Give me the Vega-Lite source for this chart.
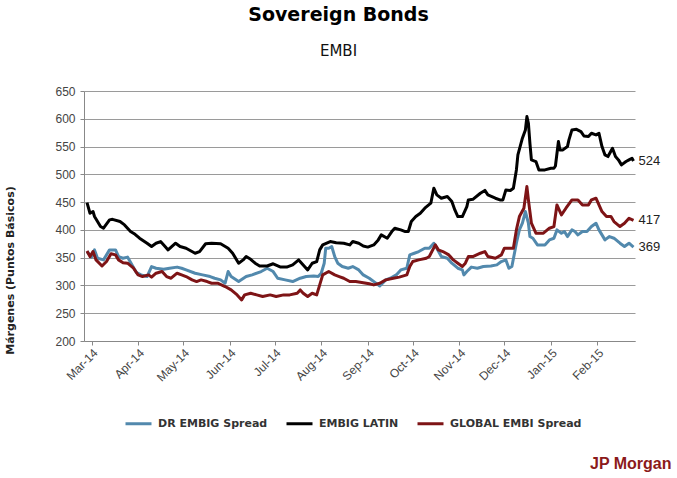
{
  "$schema": "https://vega.github.io/schema/vega-lite/v6.json",
  "width": 551,
  "height": 250,
  "autosize": {"type": "none"},
  "padding": {"left": 84, "top": 91, "right": 42, "bottom": 137},
  "background": "white",
  "title": {
    "text": "Sovereign Bonds",
    "subtitle": "EMBI",
    "anchor": "middle",
    "dx": -21,
    "font": "DejaVu Sans",
    "fontSize": 19,
    "fontWeight": "bold",
    "color": "#000000",
    "subtitleFont": "DejaVu Sans",
    "subtitleFontSize": 15,
    "subtitleColor": "#111111",
    "subtitlePadding": 19,
    "offset": 26
  },
  "config": {
    "view": {"stroke": null},
    "axis": {
      "labelFont": "Liberation Sans",
      "labelFontSize": 12,
      "labelColor": "#444444",
      "domainColor": "#888888",
      "tickColor": "#888888",
      "gridColor": "#9a9a9a",
      "tickSize": 4
    },
    "axisX": {
      "grid": false,
      "labelAngle": -45,
      "labelPadding": 2,
      "titleX": 587,
      "titleY": 122,
      "titleAlign": "right",
      "titleBaseline": "middle",
      "titleFont": "Liberation Sans",
      "titleFontSize": 16,
      "titleFontWeight": "bold",
      "titleColor": "#8b1a1a"
    },
    "axisY": {
      "grid": true,
      "labelPadding": 5,
      "titleX": -74,
      "titleY": 179,
      "titleAngle": -90,
      "titleAlign": "center",
      "titleBaseline": "middle",
      "titleFont": "DejaVu Sans",
      "titleFontSize": 11,
      "titleFontWeight": "bold",
      "titleColor": "#222222"
    }
  },
  "data": {
    "values": [
      {"date": "2014-02-26", "series": "DR EMBIG Spread", "value": 361},
      {"date": "2014-03-01", "series": "DR EMBIG Spread", "value": 351},
      {"date": "2014-03-03", "series": "DR EMBIG Spread", "value": 364},
      {"date": "2014-03-05", "series": "DR EMBIG Spread", "value": 349},
      {"date": "2014-03-09", "series": "DR EMBIG Spread", "value": 346},
      {"date": "2014-03-13", "series": "DR EMBIG Spread", "value": 364},
      {"date": "2014-03-17", "series": "DR EMBIG Spread", "value": 364},
      {"date": "2014-03-19", "series": "DR EMBIG Spread", "value": 352},
      {"date": "2014-03-22", "series": "DR EMBIG Spread", "value": 349},
      {"date": "2014-03-25", "series": "DR EMBIG Spread", "value": 351},
      {"date": "2014-03-28", "series": "DR EMBIG Spread", "value": 337},
      {"date": "2014-03-31", "series": "DR EMBIG Spread", "value": 323},
      {"date": "2014-04-03", "series": "DR EMBIG Spread", "value": 319},
      {"date": "2014-04-07", "series": "DR EMBIG Spread", "value": 316},
      {"date": "2014-04-10", "series": "DR EMBIG Spread", "value": 334},
      {"date": "2014-04-13", "series": "DR EMBIG Spread", "value": 331},
      {"date": "2014-04-18", "series": "DR EMBIG Spread", "value": 329},
      {"date": "2014-04-22", "series": "DR EMBIG Spread", "value": 331},
      {"date": "2014-04-27", "series": "DR EMBIG Spread", "value": 333},
      {"date": "2014-04-30", "series": "DR EMBIG Spread", "value": 331},
      {"date": "2014-05-03", "series": "DR EMBIG Spread", "value": 328},
      {"date": "2014-05-09", "series": "DR EMBIG Spread", "value": 322},
      {"date": "2014-05-14", "series": "DR EMBIG Spread", "value": 319},
      {"date": "2014-05-19", "series": "DR EMBIG Spread", "value": 316},
      {"date": "2014-05-22", "series": "DR EMBIG Spread", "value": 313},
      {"date": "2014-05-26", "series": "DR EMBIG Spread", "value": 310},
      {"date": "2014-05-29", "series": "DR EMBIG Spread", "value": 304},
      {"date": "2014-05-31", "series": "DR EMBIG Spread", "value": 325},
      {"date": "2014-06-02", "series": "DR EMBIG Spread", "value": 316},
      {"date": "2014-06-07", "series": "DR EMBIG Spread", "value": 307},
      {"date": "2014-06-12", "series": "DR EMBIG Spread", "value": 316},
      {"date": "2014-06-16", "series": "DR EMBIG Spread", "value": 319},
      {"date": "2014-06-22", "series": "DR EMBIG Spread", "value": 325},
      {"date": "2014-06-26", "series": "DR EMBIG Spread", "value": 331},
      {"date": "2014-06-30", "series": "DR EMBIG Spread", "value": 325},
      {"date": "2014-07-03", "series": "DR EMBIG Spread", "value": 313},
      {"date": "2014-07-08", "series": "DR EMBIG Spread", "value": 310},
      {"date": "2014-07-13", "series": "DR EMBIG Spread", "value": 307},
      {"date": "2014-07-18", "series": "DR EMBIG Spread", "value": 313},
      {"date": "2014-07-22", "series": "DR EMBIG Spread", "value": 316},
      {"date": "2014-07-27", "series": "DR EMBIG Spread", "value": 317},
      {"date": "2014-07-30", "series": "DR EMBIG Spread", "value": 316},
      {"date": "2014-08-01", "series": "DR EMBIG Spread", "value": 322},
      {"date": "2014-08-03", "series": "DR EMBIG Spread", "value": 340},
      {"date": "2014-08-04", "series": "DR EMBIG Spread", "value": 367},
      {"date": "2014-08-06", "series": "DR EMBIG Spread", "value": 367},
      {"date": "2014-08-08", "series": "DR EMBIG Spread", "value": 370},
      {"date": "2014-08-10", "series": "DR EMBIG Spread", "value": 352},
      {"date": "2014-08-12", "series": "DR EMBIG Spread", "value": 340},
      {"date": "2014-08-15", "series": "DR EMBIG Spread", "value": 334},
      {"date": "2014-08-19", "series": "DR EMBIG Spread", "value": 331},
      {"date": "2014-08-22", "series": "DR EMBIG Spread", "value": 334},
      {"date": "2014-08-26", "series": "DR EMBIG Spread", "value": 328},
      {"date": "2014-08-29", "series": "DR EMBIG Spread", "value": 319},
      {"date": "2014-09-02", "series": "DR EMBIG Spread", "value": 313},
      {"date": "2014-09-06", "series": "DR EMBIG Spread", "value": 305},
      {"date": "2014-09-09", "series": "DR EMBIG Spread", "value": 299},
      {"date": "2014-09-13", "series": "DR EMBIG Spread", "value": 310},
      {"date": "2014-09-16", "series": "DR EMBIG Spread", "value": 313},
      {"date": "2014-09-20", "series": "DR EMBIG Spread", "value": 319},
      {"date": "2014-09-23", "series": "DR EMBIG Spread", "value": 328},
      {"date": "2014-09-27", "series": "DR EMBIG Spread", "value": 331},
      {"date": "2014-09-29", "series": "DR EMBIG Spread", "value": 355},
      {"date": "2014-10-02", "series": "DR EMBIG Spread", "value": 358},
      {"date": "2014-10-05", "series": "DR EMBIG Spread", "value": 361},
      {"date": "2014-10-09", "series": "DR EMBIG Spread", "value": 367},
      {"date": "2014-10-12", "series": "DR EMBIG Spread", "value": 367},
      {"date": "2014-10-15", "series": "DR EMBIG Spread", "value": 376},
      {"date": "2014-10-17", "series": "DR EMBIG Spread", "value": 367},
      {"date": "2014-10-20", "series": "DR EMBIG Spread", "value": 352},
      {"date": "2014-10-24", "series": "DR EMBIG Spread", "value": 349},
      {"date": "2014-10-27", "series": "DR EMBIG Spread", "value": 340},
      {"date": "2014-10-31", "series": "DR EMBIG Spread", "value": 331},
      {"date": "2014-11-03", "series": "DR EMBIG Spread", "value": 328},
      {"date": "2014-11-04", "series": "DR EMBIG Spread", "value": 319},
      {"date": "2014-11-06", "series": "DR EMBIG Spread", "value": 325},
      {"date": "2014-11-09", "series": "DR EMBIG Spread", "value": 333},
      {"date": "2014-11-13", "series": "DR EMBIG Spread", "value": 331},
      {"date": "2014-11-17", "series": "DR EMBIG Spread", "value": 334},
      {"date": "2014-11-22", "series": "DR EMBIG Spread", "value": 335},
      {"date": "2014-11-26", "series": "DR EMBIG Spread", "value": 337},
      {"date": "2014-11-29", "series": "DR EMBIG Spread", "value": 343},
      {"date": "2014-12-02", "series": "DR EMBIG Spread", "value": 346},
      {"date": "2014-12-04", "series": "DR EMBIG Spread", "value": 331},
      {"date": "2014-12-06", "series": "DR EMBIG Spread", "value": 334},
      {"date": "2014-12-09", "series": "DR EMBIG Spread", "value": 376},
      {"date": "2014-12-11", "series": "DR EMBIG Spread", "value": 400},
      {"date": "2014-12-13", "series": "DR EMBIG Spread", "value": 412},
      {"date": "2014-12-15", "series": "DR EMBIG Spread", "value": 433},
      {"date": "2014-12-17", "series": "DR EMBIG Spread", "value": 412},
      {"date": "2014-12-18", "series": "DR EMBIG Spread", "value": 388},
      {"date": "2014-12-20", "series": "DR EMBIG Spread", "value": 385},
      {"date": "2014-12-23", "series": "DR EMBIG Spread", "value": 373},
      {"date": "2014-12-28", "series": "DR EMBIG Spread", "value": 373},
      {"date": "2014-12-31", "series": "DR EMBIG Spread", "value": 382},
      {"date": "2015-01-03", "series": "DR EMBIG Spread", "value": 385},
      {"date": "2015-01-05", "series": "DR EMBIG Spread", "value": 400},
      {"date": "2015-01-08", "series": "DR EMBIG Spread", "value": 394},
      {"date": "2015-01-10", "series": "DR EMBIG Spread", "value": 397},
      {"date": "2015-01-12", "series": "DR EMBIG Spread", "value": 388},
      {"date": "2015-01-15", "series": "DR EMBIG Spread", "value": 400},
      {"date": "2015-01-17", "series": "DR EMBIG Spread", "value": 397},
      {"date": "2015-01-19", "series": "DR EMBIG Spread", "value": 391},
      {"date": "2015-01-22", "series": "DR EMBIG Spread", "value": 397},
      {"date": "2015-01-25", "series": "DR EMBIG Spread", "value": 397},
      {"date": "2015-01-28", "series": "DR EMBIG Spread", "value": 406},
      {"date": "2015-01-31", "series": "DR EMBIG Spread", "value": 412},
      {"date": "2015-02-02", "series": "DR EMBIG Spread", "value": 400},
      {"date": "2015-02-06", "series": "DR EMBIG Spread", "value": 382},
      {"date": "2015-02-09", "series": "DR EMBIG Spread", "value": 388},
      {"date": "2015-02-12", "series": "DR EMBIG Spread", "value": 385},
      {"date": "2015-02-16", "series": "DR EMBIG Spread", "value": 376},
      {"date": "2015-02-19", "series": "DR EMBIG Spread", "value": 370},
      {"date": "2015-02-22", "series": "DR EMBIG Spread", "value": 376},
      {"date": "2015-02-25", "series": "DR EMBIG Spread", "value": 369},

      {"date": "2014-02-26", "series": "EMBIG LATIN", "value": 449},
      {"date": "2014-02-28", "series": "EMBIG LATIN", "value": 430},
      {"date": "2014-03-02", "series": "EMBIG LATIN", "value": 433},
      {"date": "2014-03-03", "series": "EMBIG LATIN", "value": 424},
      {"date": "2014-03-07", "series": "EMBIG LATIN", "value": 406},
      {"date": "2014-03-09", "series": "EMBIG LATIN", "value": 403},
      {"date": "2014-03-13", "series": "EMBIG LATIN", "value": 418},
      {"date": "2014-03-15", "series": "EMBIG LATIN", "value": 419},
      {"date": "2014-03-20", "series": "EMBIG LATIN", "value": 415},
      {"date": "2014-03-23", "series": "EMBIG LATIN", "value": 409},
      {"date": "2014-03-27", "series": "EMBIG LATIN", "value": 397},
      {"date": "2014-03-30", "series": "EMBIG LATIN", "value": 392},
      {"date": "2014-04-02", "series": "EMBIG LATIN", "value": 385},
      {"date": "2014-04-07", "series": "EMBIG LATIN", "value": 376},
      {"date": "2014-04-10", "series": "EMBIG LATIN", "value": 370},
      {"date": "2014-04-13", "series": "EMBIG LATIN", "value": 376},
      {"date": "2014-04-16", "series": "EMBIG LATIN", "value": 379},
      {"date": "2014-04-19", "series": "EMBIG LATIN", "value": 370},
      {"date": "2014-04-21", "series": "EMBIG LATIN", "value": 364},
      {"date": "2014-04-26", "series": "EMBIG LATIN", "value": 376},
      {"date": "2014-04-29", "series": "EMBIG LATIN", "value": 370},
      {"date": "2014-05-03", "series": "EMBIG LATIN", "value": 367},
      {"date": "2014-05-09", "series": "EMBIG LATIN", "value": 358},
      {"date": "2014-05-12", "series": "EMBIG LATIN", "value": 361},
      {"date": "2014-05-16", "series": "EMBIG LATIN", "value": 375},
      {"date": "2014-05-20", "series": "EMBIG LATIN", "value": 376},
      {"date": "2014-05-26", "series": "EMBIG LATIN", "value": 375},
      {"date": "2014-05-31", "series": "EMBIG LATIN", "value": 367},
      {"date": "2014-06-03", "series": "EMBIG LATIN", "value": 358},
      {"date": "2014-06-07", "series": "EMBIG LATIN", "value": 340},
      {"date": "2014-06-10", "series": "EMBIG LATIN", "value": 346},
      {"date": "2014-06-12", "series": "EMBIG LATIN", "value": 352},
      {"date": "2014-06-15", "series": "EMBIG LATIN", "value": 347},
      {"date": "2014-06-18", "series": "EMBIG LATIN", "value": 340},
      {"date": "2014-06-21", "series": "EMBIG LATIN", "value": 335},
      {"date": "2014-06-26", "series": "EMBIG LATIN", "value": 335},
      {"date": "2014-06-30", "series": "EMBIG LATIN", "value": 339},
      {"date": "2014-07-05", "series": "EMBIG LATIN", "value": 333},
      {"date": "2014-07-09", "series": "EMBIG LATIN", "value": 333},
      {"date": "2014-07-13", "series": "EMBIG LATIN", "value": 337},
      {"date": "2014-07-17", "series": "EMBIG LATIN", "value": 346},
      {"date": "2014-07-20", "series": "EMBIG LATIN", "value": 337},
      {"date": "2014-07-23", "series": "EMBIG LATIN", "value": 328},
      {"date": "2014-07-26", "series": "EMBIG LATIN", "value": 340},
      {"date": "2014-07-29", "series": "EMBIG LATIN", "value": 343},
      {"date": "2014-07-31", "series": "EMBIG LATIN", "value": 364},
      {"date": "2014-08-02", "series": "EMBIG LATIN", "value": 373},
      {"date": "2014-08-07", "series": "EMBIG LATIN", "value": 379},
      {"date": "2014-08-11", "series": "EMBIG LATIN", "value": 377},
      {"date": "2014-08-16", "series": "EMBIG LATIN", "value": 376},
      {"date": "2014-08-20", "series": "EMBIG LATIN", "value": 373},
      {"date": "2014-08-22", "series": "EMBIG LATIN", "value": 379},
      {"date": "2014-08-26", "series": "EMBIG LATIN", "value": 376},
      {"date": "2014-08-29", "series": "EMBIG LATIN", "value": 371},
      {"date": "2014-09-01", "series": "EMBIG LATIN", "value": 369},
      {"date": "2014-09-05", "series": "EMBIG LATIN", "value": 373},
      {"date": "2014-09-08", "series": "EMBIG LATIN", "value": 382},
      {"date": "2014-09-10", "series": "EMBIG LATIN", "value": 391},
      {"date": "2014-09-14", "series": "EMBIG LATIN", "value": 385},
      {"date": "2014-09-17", "series": "EMBIG LATIN", "value": 397},
      {"date": "2014-09-19", "series": "EMBIG LATIN", "value": 403},
      {"date": "2014-09-23", "series": "EMBIG LATIN", "value": 400},
      {"date": "2014-09-26", "series": "EMBIG LATIN", "value": 397},
      {"date": "2014-09-28", "series": "EMBIG LATIN", "value": 397},
      {"date": "2014-09-30", "series": "EMBIG LATIN", "value": 415},
      {"date": "2014-10-03", "series": "EMBIG LATIN", "value": 424},
      {"date": "2014-10-06", "series": "EMBIG LATIN", "value": 430},
      {"date": "2014-10-09", "series": "EMBIG LATIN", "value": 439},
      {"date": "2014-10-13", "series": "EMBIG LATIN", "value": 448},
      {"date": "2014-10-15", "series": "EMBIG LATIN", "value": 475},
      {"date": "2014-10-17", "series": "EMBIG LATIN", "value": 463},
      {"date": "2014-10-20", "series": "EMBIG LATIN", "value": 457},
      {"date": "2014-10-24", "series": "EMBIG LATIN", "value": 460},
      {"date": "2014-10-27", "series": "EMBIG LATIN", "value": 451},
      {"date": "2014-10-29", "series": "EMBIG LATIN", "value": 436},
      {"date": "2014-10-31", "series": "EMBIG LATIN", "value": 424},
      {"date": "2014-11-03", "series": "EMBIG LATIN", "value": 424},
      {"date": "2014-11-06", "series": "EMBIG LATIN", "value": 442},
      {"date": "2014-11-07", "series": "EMBIG LATIN", "value": 454},
      {"date": "2014-11-10", "series": "EMBIG LATIN", "value": 455},
      {"date": "2014-11-15", "series": "EMBIG LATIN", "value": 466},
      {"date": "2014-11-18", "series": "EMBIG LATIN", "value": 471},
      {"date": "2014-11-20", "series": "EMBIG LATIN", "value": 463},
      {"date": "2014-11-25", "series": "EMBIG LATIN", "value": 457},
      {"date": "2014-11-28", "series": "EMBIG LATIN", "value": 454},
      {"date": "2014-11-30", "series": "EMBIG LATIN", "value": 454},
      {"date": "2014-12-02", "series": "EMBIG LATIN", "value": 472},
      {"date": "2014-12-05", "series": "EMBIG LATIN", "value": 471},
      {"date": "2014-12-07", "series": "EMBIG LATIN", "value": 475},
      {"date": "2014-12-09", "series": "EMBIG LATIN", "value": 508},
      {"date": "2014-12-10", "series": "EMBIG LATIN", "value": 535},
      {"date": "2014-12-13", "series": "EMBIG LATIN", "value": 565},
      {"date": "2014-12-15", "series": "EMBIG LATIN", "value": 580},
      {"date": "2014-12-16", "series": "EMBIG LATIN", "value": 604},
      {"date": "2014-12-17", "series": "EMBIG LATIN", "value": 592},
      {"date": "2014-12-18", "series": "EMBIG LATIN", "value": 556},
      {"date": "2014-12-19", "series": "EMBIG LATIN", "value": 526},
      {"date": "2014-12-22", "series": "EMBIG LATIN", "value": 523},
      {"date": "2014-12-24", "series": "EMBIG LATIN", "value": 508},
      {"date": "2014-12-28", "series": "EMBIG LATIN", "value": 508},
      {"date": "2015-01-01", "series": "EMBIG LATIN", "value": 511},
      {"date": "2015-01-03", "series": "EMBIG LATIN", "value": 511},
      {"date": "2015-01-04", "series": "EMBIG LATIN", "value": 515},
      {"date": "2015-01-06", "series": "EMBIG LATIN", "value": 559},
      {"date": "2015-01-07", "series": "EMBIG LATIN", "value": 544},
      {"date": "2015-01-09", "series": "EMBIG LATIN", "value": 544},
      {"date": "2015-01-12", "series": "EMBIG LATIN", "value": 550},
      {"date": "2015-01-13", "series": "EMBIG LATIN", "value": 562},
      {"date": "2015-01-15", "series": "EMBIG LATIN", "value": 580},
      {"date": "2015-01-18", "series": "EMBIG LATIN", "value": 581},
      {"date": "2015-01-21", "series": "EMBIG LATIN", "value": 577},
      {"date": "2015-01-23", "series": "EMBIG LATIN", "value": 569},
      {"date": "2015-01-26", "series": "EMBIG LATIN", "value": 568},
      {"date": "2015-01-28", "series": "EMBIG LATIN", "value": 574},
      {"date": "2015-01-31", "series": "EMBIG LATIN", "value": 571},
      {"date": "2015-02-02", "series": "EMBIG LATIN", "value": 574},
      {"date": "2015-02-04", "series": "EMBIG LATIN", "value": 550},
      {"date": "2015-02-06", "series": "EMBIG LATIN", "value": 535},
      {"date": "2015-02-08", "series": "EMBIG LATIN", "value": 532},
      {"date": "2015-02-11", "series": "EMBIG LATIN", "value": 547},
      {"date": "2015-02-13", "series": "EMBIG LATIN", "value": 532},
      {"date": "2015-02-15", "series": "EMBIG LATIN", "value": 526},
      {"date": "2015-02-17", "series": "EMBIG LATIN", "value": 517},
      {"date": "2015-02-20", "series": "EMBIG LATIN", "value": 523},
      {"date": "2015-02-22", "series": "EMBIG LATIN", "value": 526},
      {"date": "2015-02-24", "series": "EMBIG LATIN", "value": 529},
      {"date": "2015-02-25", "series": "EMBIG LATIN", "value": 524},

      {"date": "2014-02-26", "series": "GLOBAL EMBI Spread", "value": 362},
      {"date": "2014-02-28", "series": "GLOBAL EMBI Spread", "value": 352},
      {"date": "2014-03-02", "series": "GLOBAL EMBI Spread", "value": 361},
      {"date": "2014-03-04", "series": "GLOBAL EMBI Spread", "value": 346},
      {"date": "2014-03-08", "series": "GLOBAL EMBI Spread", "value": 335},
      {"date": "2014-03-11", "series": "GLOBAL EMBI Spread", "value": 343},
      {"date": "2014-03-14", "series": "GLOBAL EMBI Spread", "value": 357},
      {"date": "2014-03-17", "series": "GLOBAL EMBI Spread", "value": 355},
      {"date": "2014-03-19", "series": "GLOBAL EMBI Spread", "value": 346},
      {"date": "2014-03-22", "series": "GLOBAL EMBI Spread", "value": 341},
      {"date": "2014-03-25", "series": "GLOBAL EMBI Spread", "value": 340},
      {"date": "2014-03-29", "series": "GLOBAL EMBI Spread", "value": 331},
      {"date": "2014-04-01", "series": "GLOBAL EMBI Spread", "value": 319},
      {"date": "2014-04-04", "series": "GLOBAL EMBI Spread", "value": 316},
      {"date": "2014-04-08", "series": "GLOBAL EMBI Spread", "value": 319},
      {"date": "2014-04-10", "series": "GLOBAL EMBI Spread", "value": 315},
      {"date": "2014-04-13", "series": "GLOBAL EMBI Spread", "value": 322},
      {"date": "2014-04-17", "series": "GLOBAL EMBI Spread", "value": 325},
      {"date": "2014-04-20", "series": "GLOBAL EMBI Spread", "value": 316},
      {"date": "2014-04-23", "series": "GLOBAL EMBI Spread", "value": 313},
      {"date": "2014-04-27", "series": "GLOBAL EMBI Spread", "value": 322},
      {"date": "2014-04-30", "series": "GLOBAL EMBI Spread", "value": 319},
      {"date": "2014-05-03", "series": "GLOBAL EMBI Spread", "value": 316},
      {"date": "2014-05-07", "series": "GLOBAL EMBI Spread", "value": 310},
      {"date": "2014-05-10", "series": "GLOBAL EMBI Spread", "value": 307},
      {"date": "2014-05-13", "series": "GLOBAL EMBI Spread", "value": 310},
      {"date": "2014-05-17", "series": "GLOBAL EMBI Spread", "value": 307},
      {"date": "2014-05-20", "series": "GLOBAL EMBI Spread", "value": 304},
      {"date": "2014-05-24", "series": "GLOBAL EMBI Spread", "value": 304},
      {"date": "2014-05-29", "series": "GLOBAL EMBI Spread", "value": 298},
      {"date": "2014-06-02", "series": "GLOBAL EMBI Spread", "value": 292},
      {"date": "2014-06-06", "series": "GLOBAL EMBI Spread", "value": 283},
      {"date": "2014-06-09", "series": "GLOBAL EMBI Spread", "value": 274},
      {"date": "2014-06-11", "series": "GLOBAL EMBI Spread", "value": 283},
      {"date": "2014-06-15", "series": "GLOBAL EMBI Spread", "value": 286},
      {"date": "2014-06-19", "series": "GLOBAL EMBI Spread", "value": 283},
      {"date": "2014-06-23", "series": "GLOBAL EMBI Spread", "value": 280},
      {"date": "2014-06-28", "series": "GLOBAL EMBI Spread", "value": 283},
      {"date": "2014-07-02", "series": "GLOBAL EMBI Spread", "value": 280},
      {"date": "2014-07-07", "series": "GLOBAL EMBI Spread", "value": 283},
      {"date": "2014-07-11", "series": "GLOBAL EMBI Spread", "value": 283},
      {"date": "2014-07-16", "series": "GLOBAL EMBI Spread", "value": 286},
      {"date": "2014-07-18", "series": "GLOBAL EMBI Spread", "value": 292},
      {"date": "2014-07-20", "series": "GLOBAL EMBI Spread", "value": 286},
      {"date": "2014-07-23", "series": "GLOBAL EMBI Spread", "value": 280},
      {"date": "2014-07-26", "series": "GLOBAL EMBI Spread", "value": 286},
      {"date": "2014-07-29", "series": "GLOBAL EMBI Spread", "value": 283},
      {"date": "2014-07-31", "series": "GLOBAL EMBI Spread", "value": 301},
      {"date": "2014-08-02", "series": "GLOBAL EMBI Spread", "value": 319},
      {"date": "2014-08-06", "series": "GLOBAL EMBI Spread", "value": 325},
      {"date": "2014-08-10", "series": "GLOBAL EMBI Spread", "value": 319},
      {"date": "2014-08-13", "series": "GLOBAL EMBI Spread", "value": 316},
      {"date": "2014-08-16", "series": "GLOBAL EMBI Spread", "value": 313},
      {"date": "2014-08-20", "series": "GLOBAL EMBI Spread", "value": 307},
      {"date": "2014-08-24", "series": "GLOBAL EMBI Spread", "value": 307},
      {"date": "2014-08-29", "series": "GLOBAL EMBI Spread", "value": 305},
      {"date": "2014-09-02", "series": "GLOBAL EMBI Spread", "value": 303},
      {"date": "2014-09-05", "series": "GLOBAL EMBI Spread", "value": 301},
      {"date": "2014-09-09", "series": "GLOBAL EMBI Spread", "value": 304},
      {"date": "2014-09-13", "series": "GLOBAL EMBI Spread", "value": 310},
      {"date": "2014-09-18", "series": "GLOBAL EMBI Spread", "value": 313},
      {"date": "2014-09-22", "series": "GLOBAL EMBI Spread", "value": 315},
      {"date": "2014-09-27", "series": "GLOBAL EMBI Spread", "value": 319},
      {"date": "2014-09-29", "series": "GLOBAL EMBI Spread", "value": 334},
      {"date": "2014-10-01", "series": "GLOBAL EMBI Spread", "value": 343},
      {"date": "2014-10-05", "series": "GLOBAL EMBI Spread", "value": 346},
      {"date": "2014-10-10", "series": "GLOBAL EMBI Spread", "value": 349},
      {"date": "2014-10-12", "series": "GLOBAL EMBI Spread", "value": 352},
      {"date": "2014-10-16", "series": "GLOBAL EMBI Spread", "value": 373},
      {"date": "2014-10-18", "series": "GLOBAL EMBI Spread", "value": 364},
      {"date": "2014-10-21", "series": "GLOBAL EMBI Spread", "value": 361},
      {"date": "2014-10-25", "series": "GLOBAL EMBI Spread", "value": 355},
      {"date": "2014-10-28", "series": "GLOBAL EMBI Spread", "value": 346},
      {"date": "2014-10-31", "series": "GLOBAL EMBI Spread", "value": 340},
      {"date": "2014-11-03", "series": "GLOBAL EMBI Spread", "value": 334},
      {"date": "2014-11-05", "series": "GLOBAL EMBI Spread", "value": 340},
      {"date": "2014-11-07", "series": "GLOBAL EMBI Spread", "value": 352},
      {"date": "2014-11-10", "series": "GLOBAL EMBI Spread", "value": 352},
      {"date": "2014-11-15", "series": "GLOBAL EMBI Spread", "value": 358},
      {"date": "2014-11-18", "series": "GLOBAL EMBI Spread", "value": 361},
      {"date": "2014-11-20", "series": "GLOBAL EMBI Spread", "value": 352},
      {"date": "2014-11-25", "series": "GLOBAL EMBI Spread", "value": 349},
      {"date": "2014-11-29", "series": "GLOBAL EMBI Spread", "value": 355},
      {"date": "2014-12-01", "series": "GLOBAL EMBI Spread", "value": 367},
      {"date": "2014-12-07", "series": "GLOBAL EMBI Spread", "value": 367},
      {"date": "2014-12-09", "series": "GLOBAL EMBI Spread", "value": 400},
      {"date": "2014-12-11", "series": "GLOBAL EMBI Spread", "value": 424},
      {"date": "2014-12-14", "series": "GLOBAL EMBI Spread", "value": 439},
      {"date": "2014-12-16", "series": "GLOBAL EMBI Spread", "value": 478},
      {"date": "2014-12-17", "series": "GLOBAL EMBI Spread", "value": 454},
      {"date": "2014-12-19", "series": "GLOBAL EMBI Spread", "value": 412},
      {"date": "2014-12-22", "series": "GLOBAL EMBI Spread", "value": 394},
      {"date": "2014-12-27", "series": "GLOBAL EMBI Spread", "value": 394},
      {"date": "2014-12-31", "series": "GLOBAL EMBI Spread", "value": 403},
      {"date": "2015-01-03", "series": "GLOBAL EMBI Spread", "value": 406},
      {"date": "2015-01-05", "series": "GLOBAL EMBI Spread", "value": 445},
      {"date": "2015-01-08", "series": "GLOBAL EMBI Spread", "value": 427},
      {"date": "2015-01-11", "series": "GLOBAL EMBI Spread", "value": 439},
      {"date": "2015-01-15", "series": "GLOBAL EMBI Spread", "value": 454},
      {"date": "2015-01-19", "series": "GLOBAL EMBI Spread", "value": 454},
      {"date": "2015-01-22", "series": "GLOBAL EMBI Spread", "value": 445},
      {"date": "2015-01-26", "series": "GLOBAL EMBI Spread", "value": 445},
      {"date": "2015-01-28", "series": "GLOBAL EMBI Spread", "value": 454},
      {"date": "2015-01-31", "series": "GLOBAL EMBI Spread", "value": 457},
      {"date": "2015-02-04", "series": "GLOBAL EMBI Spread", "value": 433},
      {"date": "2015-02-07", "series": "GLOBAL EMBI Spread", "value": 424},
      {"date": "2015-02-10", "series": "GLOBAL EMBI Spread", "value": 424},
      {"date": "2015-02-12", "series": "GLOBAL EMBI Spread", "value": 415},
      {"date": "2015-02-16", "series": "GLOBAL EMBI Spread", "value": 406},
      {"date": "2015-02-19", "series": "GLOBAL EMBI Spread", "value": 412},
      {"date": "2015-02-22", "series": "GLOBAL EMBI Spread", "value": 421},
      {"date": "2015-02-25", "series": "GLOBAL EMBI Spread", "value": 417}
    ]
  },
  "layer": [
    {
      "mark": {"type": "line", "strokeWidth": 3, "strokeJoin": "round"},
      "encoding": {
        "x": {
          "field": "date",
          "type": "temporal",
          "title": "JP Morgan",
          "scale": {
            "type": "utc",
            "domain": [
              {"year": 2014, "month": 2, "date": 24, "utc": true},
              {"year": 2015, "month": 2, "date": 26, "utc": true}
            ],
            "nice": false
          },
          "axis": {"format": "%b-%y", "tickCount": {"interval": "month", "step": 1}}
        },
        "y": {
          "field": "value",
          "type": "quantitative",
          "title": "Márgenes (Puntos Básicos)",
          "scale": {"domain": [200, 650], "nice": false, "zero": false},
          "axis": {"values": [200, 250, 300, 350, 400, 450, 500, 550, 600, 650]}
        },
        "color": {
          "field": "series",
          "type": "nominal",
          "scale": {
            "domain": ["DR EMBIG Spread", "EMBIG LATIN", "GLOBAL EMBI Spread"],
            "range": ["#5289ad", "#000000", "#7e1416"]
          },
          "legend": {
            "title": null,
            "orient": "none",
            "legendX": 40,
            "legendY": 318,
            "direction": "horizontal",
            "symbolType": "stroke",
            "symbolSize": 676,
            "symbolStrokeWidth": 3,
            "labelFont": "DejaVu Sans",
            "labelFontSize": 11,
            "labelFontWeight": "bold",
            "labelColor": "#333333",
            "labelOffset": 5,
            "columnPadding": 12
          }
        }
      }
    },
    {
      "mark": {"type": "text", "align": "left", "baseline": "middle", "dx": 5, "font": "Liberation Sans", "fontSize": 13, "color": "#222222"},
      "encoding": {
        "x": {
          "aggregate": "max",
          "field": "date",
          "type": "temporal",
          "title": "JP Morgan",
          "axis": {"format": "%b-%y", "tickCount": {"interval": "month", "step": 1}}
        },
        "y": {
          "aggregate": {"argmax": "date"},
          "field": "value",
          "type": "quantitative",
          "title": "Márgenes (Puntos Básicos)",
          "axis": {"values": [200, 250, 300, 350, 400, 450, 500, 550, 600, 650]}
        },
        "text": {"aggregate": {"argmax": "date"}, "field": "value", "type": "quantitative"},
        "detail": {"field": "series", "type": "nominal"}
      }
    }
  ]
}
